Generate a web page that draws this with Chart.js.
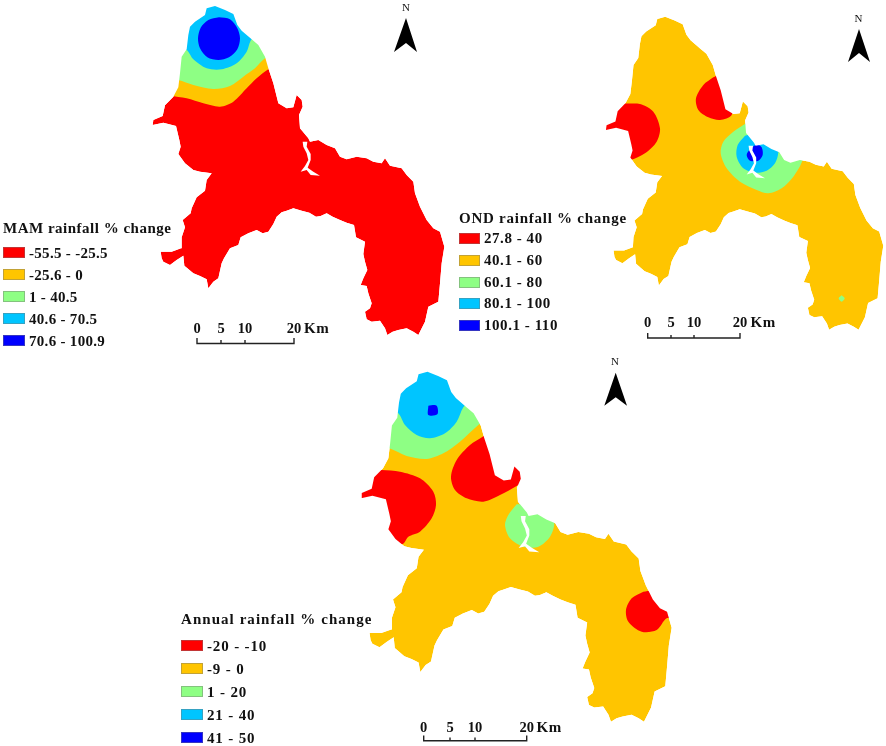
<!DOCTYPE html>
<html>
<head>
<meta charset="utf-8">
<script src="https://cdn.jsdelivr.net/npm/chart.js@4"></script>
<style>
  html, body { margin: 0; background: #fff; }
  #wrap { position: relative; width: 886px; height: 746px; overflow: hidden; }
  #map { position: absolute; left: 0; top: 0; }
  .t { position: absolute; font: bold 15px "Liberation Serif", serif; color: #111; white-space: nowrap; line-height: 1; transform: translateY(-50%); letter-spacing: .55px; }
  .tick { transform: translate(-50%, -50%); font-size: 14.5px; letter-spacing: 0; }
  .north { transform: translate(-50%, -50%); font-size: 11px; font-weight: normal; letter-spacing: 0; }
  .sw { position: absolute; box-sizing: border-box; border: 1px solid rgba(120,120,120,.45); }
</style>
</head>
<body>
<div id="wrap"><canvas id="map" width="886" height="746"></canvas></div>
<script>
// classes
const red = '#ff0000', orange = '#ffc500', green = '#8eff84', sky = '#00c5ff', blue = '#0000ff';
const classColors = [red, orange, green, sky, blue];

// legends
const mamTitle = 'MAM rainfall % change';
const mamLabels = ['-55.5 - -25.5', '-25.6 - 0', '1 - 40.5', '40.6 - 70.5', '70.6 - 100.9'];
const ondTitle = 'OND rainfall % change';
const ondLabels = ['27.8 - 40', '40.1 - 60', '60.1 - 80', '80.1 - 100', '100.1 - 110'];
const annTitle = 'Annual rainfall % change';
const annLabels = ['-20 - -10', '-9 - 0', '1 - 20', '21 - 40', '41 - 50'];
const scaleLabels = ['0', '5', '10', '20'];

// district boundary
const mapOutline = [[805,1005],[790,995],[770,985],[745,990],[728,995],[712,1005],[705,985],[690,962],[665,965],[650,958],[645,935],[660,925],[665,910],[655,880],[650,858],[632,855],[640,835],[652,810],[645,785],[640,762],[645,725],[618,712],[612,675],[590,668],[570,660],[548,650],[530,640],[512,648],[498,650],[478,638],[455,632],[430,625],[410,632],[395,637],[380,650],[370,672],[355,695],[338,700],[320,690],[295,700],[272,712],[265,735],[240,745],[222,775],[215,790],[205,835],[190,845],[175,865],[170,838],[150,828],[130,820],[103,797],[100,767],[80,780],[60,795],[40,785],[35,775],[32,755],[65,755],[93,745],[95,712],[105,682],[98,660],[122,640],[125,625],[140,592],[165,572],[170,540],[185,520],[150,515],[130,510],[105,490],[85,462],[92,440],[88,420],[78,378],[40,368],[8,375],[10,360],[38,348],[45,316],[70,290],[85,262],[90,220],[95,170],[110,148],[115,105],[120,80],[135,65],[165,45],[170,25],[195,18],[225,30],[250,42],[262,75],[275,92],[305,118],[325,135],[345,170],[355,205],[370,250],[385,310],[410,325],[430,322],[440,285],[455,300],[458,320],[447,345],[450,385],[475,415],[480,425],[505,420],[530,435],[555,445],[570,470],[590,478],[620,470],[650,475],[670,485],[695,490],[705,475],[720,497],[755,505],[770,525],[790,545],[795,580],[810,620],[830,660],[850,685],[870,695],[883,740],[875,790],[870,850],[865,905],[835,920],[825,965],[805,1005]];
const riverGap = [[458,425],[472,425],[470,440],[482,462],[482,480],[473,503],[490,515],[510,527],[482,525],[470,510],[452,515],[465,498],[475,480],[470,460],[460,440],[458,425]];

const mamZones = [
  { c: orange, pts: [[0,288],[60,288],[110,295],[160,310],[210,320],[250,305],[290,265],[320,235],[355,208],[400,190],[400,0],[0,0],[0,288]] },
  { c: green, pts: [[0,225],[85,240],[130,255],[190,267],[240,258],[280,230],[315,205],[345,175],[400,150],[400,0],[0,0],[0,225]] },
  { c: sky, pts: [[60,130],[110,150],[130,178],[170,205],[215,208],[260,190],[290,155],[305,118],[350,90],[350,0],[60,0],[60,130]] },
  { c: blue, pts: [[207,52],[240,58],[262,85],[270,115],[262,148],[237,172],[205,180],[172,172],[150,145],[144,115],[152,83],[175,60],[207,52]] }
];
const ondZones = [
  { c: red, pts: [[60,300],[100,310],[150,312],[190,335],[210,385],[200,425],[165,460],[120,480],[60,480],[20,400],[60,300]] },
  { c: red, pts: [[370,232],[340,255],[318,295],[325,330],[355,352],[390,360],[425,345],[428,300],[400,220],[370,232]] },
  { c: green, pts: [[465,372],[430,395],[400,425],[392,460],[410,505],[450,545],[500,570],[535,580],[575,565],[610,530],[637,482],[640,440],[560,400],[480,360],[465,372]] },
  { c: sky, pts: [[465,407],[443,435],[440,470],[460,505],[495,518],[530,512],[555,490],[565,457],[560,420],[500,400],[465,407]] },
  { c: blue, pts: [[500,432],[480,448],[470,465],[480,482],[505,482],[518,465],[515,442],[500,432]] },
  { c: green, pts: [[755,886],[764,895],[755,905],[746,895],[755,886]] }
];
const annZones = [
  { c: green, pts: [[80,232],[118,235],[170,258],[230,267],[280,250],[330,215],[385,165],[420,140],[350,60],[80,100],[80,232]] },
  { c: sky, pts: [[100,100],[145,130],[165,165],[200,195],[240,205],[285,190],[320,155],[340,112],[370,80],[350,0],[100,0],[100,100]] },
  { c: blue, pts: [[235,107],[260,107],[262,133],[235,135],[235,107]] },
  { c: red, pts: [[60,300],[95,300],[150,305],[210,325],[250,365],[258,405],[245,445],[210,485],[175,500],[158,522],[100,530],[20,450],[20,350],[60,300]] },
  { c: red, pts: [[398,200],[360,225],[320,270],[303,320],[315,360],[350,385],[400,395],[450,375],[500,348],[530,330],[520,270],[440,260],[420,190],[398,200]] },
  { c: green, pts: [[500,403],[475,435],[465,465],[480,505],[520,530],[565,530],[600,500],[613,460],[600,420],[540,400],[500,403]] },
  { c: red, pts: [[880,665],[845,685],[828,720],[835,755],[875,785],[920,780],[950,745],[990,740],[950,660],[880,665]] }
];

// panel placement on the page: crop origin, fit of the boundary, white mask box, scale bar, north arrow
const panels = [
  { base: red, zones: mamZones, crop: [150, 0], ox: 150, oy: 0, sx: 1, sy: 1, box: [120, 0, 452, 345],
    bar: { y: 343.5, top: 338, xs: [197, 221, 245, 294], labelY: 328, kmX: 304 },
    arrow: [[406,18],[394,52],[406,43],[417,52],[406,18]], northAt: [406, 7],
    legend: { title: mamTitle, labels: mamLabels, x: 3, w: 22, h: 11, titleY: 228, rows: [247,269,291,313,335], textX: 29, titleSpace: .5, labelSpace: .3 } },
  { base: orange, zones: ondZones, crop: [590, 0], ox: 603.4, oy: 10.95, sx: 0.951, sy: 0.952, box: [580, 0, 886, 334],
    bar: { y: 338, top: 333, xs: [647.7, 671, 694, 740], labelY: 322, kmX: 750.5 },
    arrow: [[859,29],[848,62],[859,53],[870,62],[859,29]], northAt: [858.5, 18],
    legend: { title: ondTitle, labels: ondLabels, x: 459, w: 21, h: 10.5, titleY: 218, rows: [233,255,277,298,320], textX: 484, titleSpace: .75, labelSpace: .55 } },
  { base: orange, zones: annZones, crop: [350, 370], ox: 358.2, oy: 365.3, sx: 1.065, sy: 1.064, box: [340, 352, 700, 746],
    bar: { y: 740.7, top: 735.5, xs: [423.7, 450, 475, 526.7], labelY: 727, kmX: 536.5 },
    arrow: [[615.7,372.7],[604.3,405.7],[615.7,397.3],[627,405.7],[615.7,372.7]], northAt: [615, 361],
    legend: { title: annTitle, labels: annLabels, x: 181, w: 22, h: 11, titleY: 619, rows: [640,663,686,709,732], textX: 207, titleSpace: 1.05, labelSpace: .85 } }
];

const xy = p => ({ x: p[0], y: p[1] });
const shape = (data, color, tension) => ({
  data, backgroundColor: color, borderColor: color, borderWidth: 0, showLine: true,
  fill: 'shape', tension: tension || 0, pointRadius: 0, clip: false
});

const datasets = [];
panels.forEach(p => {
  const fit = q => ({ x: p.ox + p.sx * q[0] / 3, y: p.oy + p.sy * q[1] / 3 });
  const fromCrop = q => ({ x: p.crop[0] + q[0] / 3, y: p.crop[1] + q[1] / 3 });
  const outline = mapOutline.map(fit);
  datasets.push(shape(outline, p.base));
  p.zones.forEach(z => datasets.push(shape(z.pts.map(fromCrop), z.c, 0.3)));
  // white box with the district cut out of it, trims the zones to the boundary
  const [x0, y0, x1, y1] = p.box;
  const corners = [[x1,y1],[x1,y0],[x0,y0],[x0,y1],[x1,y1]].map(xy);
  datasets.push(shape(corners.concat(outline, [corners[0]]), '#ffffff'));
  datasets.push(shape(riverGap.map(fit), '#ffffff'));
  // north arrow
  datasets.push(shape(p.arrow.map(xy), '#000000'));
  // scale bar
  const b = p.bar;
  const line = [];
  b.xs.forEach((x, i) => {
    const top = (i === 0 || i === b.xs.length - 1) ? b.top : b.top + 2;
    line.push({ x, y: b.y }, { x, y: top }, { x, y: b.y });
  });
  datasets.push({ data: line, showLine: true, fill: false, borderColor: '#222', borderWidth: 1.4, pointRadius: 0, clip: false });
});
// chart.js paints the first dataset last
datasets.reverse();

new Chart(document.getElementById('map'), {
  type: 'scatter',
  data: { datasets },
  options: {
    responsive: false,
    animation: false,
    events: [],
    layout: { padding: 0 },
    plugins: { legend: { display: false }, tooltip: { enabled: false }, title: { display: false } },
    scales: {
      x: { type: 'linear', min: 0, max: 886, display: false },
      y: { type: 'linear', min: 0, max: 746, reverse: true, display: false }
    }
  }
});

// legend and labels as text over the canvas
const wrap = document.getElementById('wrap');
function text(str, x, y, cls, space) {
  const d = document.createElement('div');
  d.className = 't' + (cls ? ' ' + cls : '');
  d.textContent = str;
  d.style.left = x + 'px';
  d.style.top = y + 'px';
  if (space !== undefined) d.style.letterSpacing = space + 'px';
  wrap.appendChild(d);
}
panels.forEach(p => {
  const l = p.legend;
  text(l.title, l.x, l.titleY, '', l.titleSpace);
  l.labels.forEach((lab, i) => {
    const s = document.createElement('div');
    s.className = 'sw';
    s.style.cssText = `left:${l.x}px;top:${l.rows[i]}px;width:${l.w}px;height:${l.h}px;background:${classColors[i]}`;
    wrap.appendChild(s);
    text(lab, l.textX, l.rows[i] + l.h / 2, 'leg', l.labelSpace);
  });
  scaleLabels.forEach((lab, i) => text(lab, p.bar.xs[i], p.bar.labelY, 'tick'));
  text('Km', p.bar.kmX, p.bar.labelY);
  text('N', p.northAt[0], p.northAt[1], 'north');
});
</script>
</body>
</html>
